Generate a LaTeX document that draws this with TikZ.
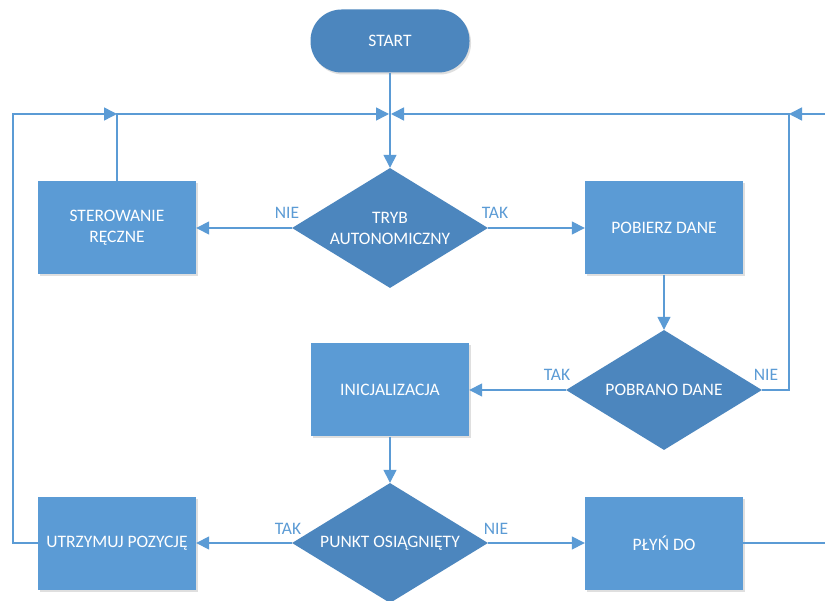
\documentclass[tikz,border=0pt]{standalone}
\usepackage{fontspec}
\setmainfont{Carlito}
\usetikzlibrary{shapes.geometric,arrows.meta,shadows}
\definecolor{boxblue}{RGB}{91,155,213}
\definecolor{decblue}{RGB}{76,134,190}
\definecolor{lineblue}{RGB}{91,155,213}
\tikzset{
  procbox/.style={rectangle, fill=boxblue, minimum width=158pt, minimum height=93pt, inner sep=2pt,
    text=white, align=center, font=\fontsize{17.5}{21}\selectfont,
    drop shadow={opacity=0.25, shadow xshift=1.5pt, shadow yshift=-2pt}},
  decbox/.style={diamond, fill=decblue, minimum width=196pt, minimum height=120pt, inner sep=0pt, aspect=1.63,
    text=white, align=center, font=\fontsize{17.5}{21}\selectfont},
  termbox/.style={rectangle, rounded corners=31pt, fill=decblue, minimum width=159pt, minimum height=63pt,
    text=white, font=\fontsize{17.5}{21}\selectfont,
    drop shadow={opacity=0.25, shadow xshift=1.5pt, shadow yshift=-2pt}},
  conn/.style={draw=lineblue, line width=1.5pt},
  arr/.style={conn, -{Triangle[length=13pt,width=13pt]}},
  lbl/.style={text=lineblue, font=\fontsize{17.5}{21}\selectfont, inner sep=0pt}
}
\begin{document}
\begin{tikzpicture}[x=1pt,y=-1pt]
\useasboundingbox (0,0) rectangle (825,601);
\fill[white] (0,0) rectangle (825,601);
\node[termbox] (start) at (390,41) {START};
\node[decbox] (tryb) at (390,228) {TRYB\\AUTONOMICZNY};
\node[procbox] (ster) at (117,228) {STEROWANIE\\RĘCZNE};
\node[procbox] (pobierz) at (664,228) {POBIERZ DANE};
\node[decbox] (pobrano) at (664,390) {POBRANO DANE};
\node[procbox] (inic) at (390,390) {INICJALIZACJA};
\node[decbox] (punkt) at (390,543) {PUNKT OSIĄGNIĘTY};
\node[procbox] (utrz) at (117,543) {UTRZYMUJ POZYCJĘ};
\node[procbox] (plyn) at (664,543) {PŁYŃ DO};

\coordinate (j1) at (117,114);
\coordinate (j0l) at (389,114);
\coordinate (j0r) at (391,114);
\coordinate (jr) at (789,114);
\coordinate (edgeTop) at (825,114);
\coordinate (edgeBot) at (825,543);
\coordinate (leftX) at (13,543);
\coordinate (rightX) at (789,390);

\draw[arr] (start.south) -- (tryb.north);
\draw[arr] (ster.north) -- (j1) -- (j0l);
\draw[arr] (utrz.west) -- (leftX) |- (j1);
\draw[arr] (pobrano.east) -- (rightX) -- (jr) -- (j0r);
\draw[arr] (edgeTop) -- (jr);
\draw[conn] (plyn.east) -- (edgeBot);

\draw[arr] (tryb.west) -- (ster.east);
\draw[arr] (tryb.east) -- (pobierz.west);
\draw[arr] (pobierz.south) -- (pobrano.north);
\draw[arr] (pobrano.west) -- (inic.east);
\draw[arr] (inic.south) -- (punkt.north);
\draw[arr] (punkt.west) -- (utrz.east);
\draw[arr] (punkt.east) -- (plyn.west);

\node[lbl] (l1) at (287,213) {NIE};
\node[lbl] (l2) at (495,213) {TAK};
\node[lbl] (l3) at (557,375) {TAK};
\node[lbl] (l4) at (766,375) {NIE};
\node[lbl] (l5) at (288,529) {TAK};
\node[lbl] (l6) at (496,529) {NIE};
\end{tikzpicture}
\end{document}
